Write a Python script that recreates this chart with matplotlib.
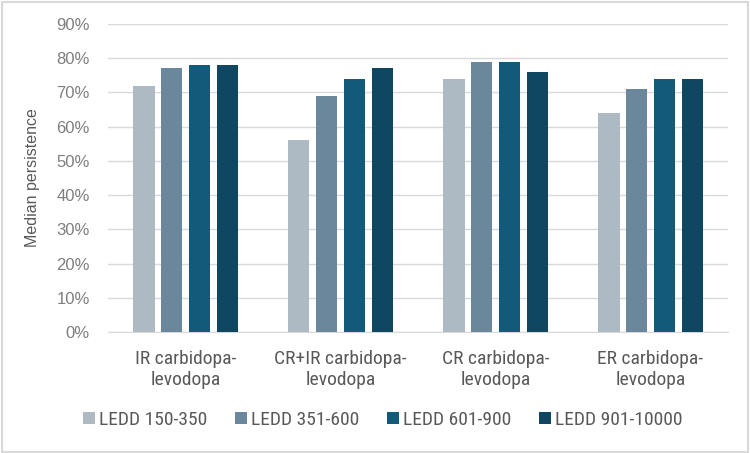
import matplotlib.pyplot as plt
import numpy as np

categories = ['IR carbidopa-\nlevodopa', 'CR+IR carbidopa-\nlevodopa', 'CR carbidopa-\nlevodopa', 'ER carbidopa-\nlevodopa']
series = ['LEDD 150-350', 'LEDD 351-600', 'LEDD 601-900', 'LEDD 901-10000']
values = [
    [72, 56, 74, 64],
    [77, 69, 79, 71],
    [78, 74, 79, 74],
    [78, 77, 76, 74],
]
colors = ['#adb9c3', '#6a879b', '#135a7a', '#0f4661']

narrow = ['Roboto Condensed', 'Liberation Sans Narrow', 'DejaVu Sans']
plain = ['Liberation Sans', 'DejaVu Sans']
plt.rcParams['font.family'] = narrow

fig = plt.figure(figsize=(7.5, 4.53), dpi=100)
ax = fig.add_axes([108 / 750, 1 - 332 / 453, 620 / 750, 308 / 453])

x = np.arange(len(categories))
width = 0.14
step = 0.18
for i, s in enumerate(series):
    ax.bar(x + (i - 1.5) * step, np.array(values[i]) / 100, width, color=colors[i], label=s, zorder=3)

ax.set_xlim(-0.5, len(categories) - 0.5)
ax.set_ylim(0, 0.9)
ticks = np.arange(0, 0.91, 0.1)
ax.set_yticks(ticks)
ax.set_yticklabels([f'{int(round(t * 100))}%' for t in ticks], family=plain, fontsize=12, color='#7f7f7f')
ax.set_xticks(x)
ax.set_xticklabels(categories, linespacing=1.2, fontsize=14, color='#595959')
ax.grid(axis='y', color='#d9d9d9', linewidth=1, zorder=0)
for sp in ['top', 'right', 'left']:
    ax.spines[sp].set_visible(False)
ax.spines['bottom'].set_color('#d9d9d9')
ax.tick_params(axis='both', length=0)
ax.tick_params(axis='x', pad=13)
ax.tick_params(axis='y', pad=13)
ax.set_ylabel('Median persistence', color='#595959', fontsize=11.5, family=plain, labelpad=12)

fig.legend(loc='center left', bbox_to_anchor=(83 / 750, 1 - 420 / 453), ncol=4, frameon=False,
           fontsize=14, labelcolor='#595959', handlelength=0.6, handleheight=0.6,
           handletextpad=0.2, columnspacing=1.45, borderpad=0, borderaxespad=0)

fig.patches.append(plt.Rectangle((0.002, 0.003), 0.995, 0.993, transform=fig.transFigure,
                                 fill=False, edgecolor='#d9d9d9', linewidth=1.5))
fig.savefig('out.png', dpi=100)
